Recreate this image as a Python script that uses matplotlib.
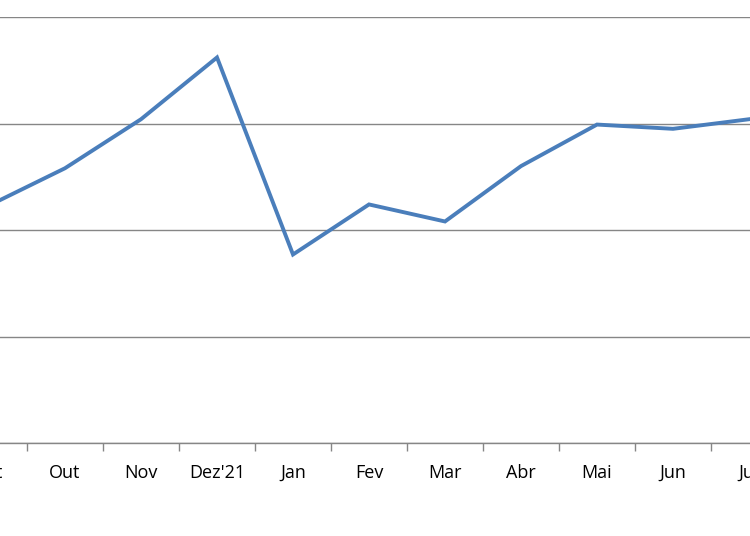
import matplotlib
matplotlib.use("Agg")
import matplotlib.pyplot as plt
import numpy as np

# months (Set is only partly visible at the left, Jul at the right)
months = ["Set", "Out", "Nov", "Dez'21", "Jan", "Fev", "Mar", "Abr", "Mai", "Jun", "Jul"]
values = [2.23, 2.58, 3.04, 3.62, 1.77, 2.24, 2.08, 2.60, 2.99, 2.95, 3.04]
y_grid = [0, 1, 2, 3, 4]

fig = plt.figure(figsize=(7.5, 5.36), dpi=100)
# axes reaches past the figure edges, as in the cropped reference
ax = fig.add_axes([-49 / 750, 93 / 536, 836 / 750, 426 / 536])

x = np.arange(len(months))
ax.plot(x, values, color="#4A7EBB", lw=2.8, solid_joinstyle="miter", zorder=3)

ax.set_xlim(-0.5, len(months) - 0.5)
ax.set_ylim(0, 4)
ax.set_yticks(y_grid)
ax.yaxis.grid(True, color="#868686", lw=1)
ax.tick_params(axis="y", left=False, labelleft=False)

# boundary ticks without labels, labels centred on the months
ax.set_xticks(np.arange(len(months) + 1) - 0.5)
ax.set_xticklabels([])
ax.set_xticks(x, minor=True)
ax.set_xticklabels(months, minor=True, fontsize=13, family="Open Sans", va="baseline")
ax.tick_params(axis="x", which="major", length=6, color="#868686", width=1)
ax.tick_params(axis="x", which="minor", length=0, pad=25)

for s in ["top", "left", "right"]:
    ax.spines[s].set_visible(False)
ax.spines["bottom"].set_color("#868686")
ax.spines["bottom"].set_linewidth(1)
ax.set_axisbelow(True)

fig.savefig("out.png", dpi=100)
